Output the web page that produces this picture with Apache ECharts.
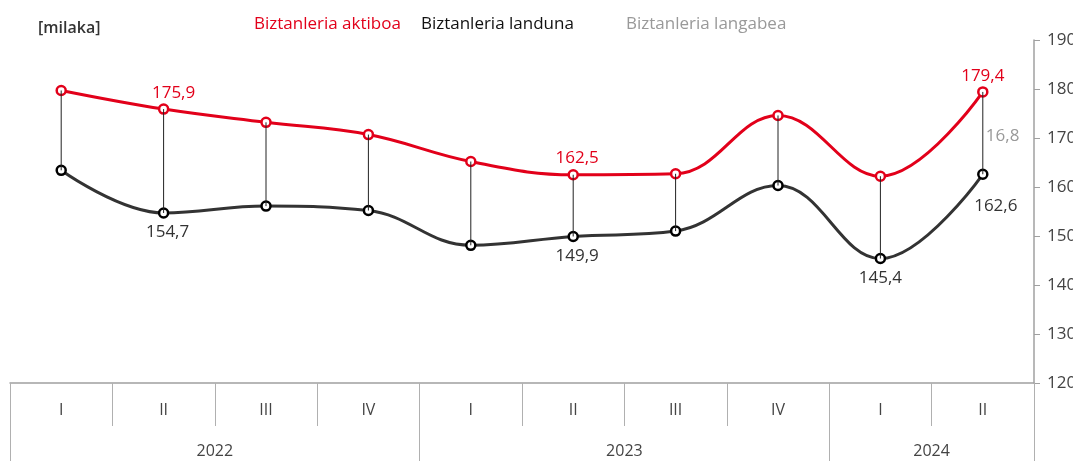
<!DOCTYPE html>
<html>
<head>
    <meta charset="utf-8">
    <title>Biztanleria aktiboa, landuna eta langabea</title>
    <script src="https://cdn.jsdelivr.net/npm/echarts@6.0.0/dist/echarts.min.js"></script>
    <style>
        html, body { margin: 0; padding: 0; background: #fff; }
        #chart { width: 1073px; height: 461px; }
    </style>
</head>
<body>
<div id="chart"></div>
<script>
    // datuak (milaka)
    var quarters = ['I', 'II', 'III', 'IV', 'I', 'II', 'III', 'IV', 'I', 'II'];
    var years = ['2022', '2023', '2024'];
    var yearCenters = [2, 6, 9];
    var yearBounds = [0, 4, 8, 10];
    var active = [179.7, 175.9, 173.2, 170.7, 165.2, 162.5, 162.7, 174.6, 162.2, 179.4];
    var employed = [163.4, 154.7, 156.1, 155.2, 148.1, 149.9, 151.0, 160.3, 145.4, 162.6];
    var activeLabelIdx = [1, 5, 9];
    var employedLabelIdx = [1, 5, 8, 9];
    var unemployedLabelIdx = [9];

    var unemployed = active.map(function (v, i) { return +(v - employed[i]).toFixed(1); });

    function fmt(v) { return v.toFixed(1).replace('.', ','); }

    var font = '"Open Sans", "Noto Sans", sans-serif';
    var red = '#E2001A';
    var dark = '#333333';
    var grey = '#999999';

    // etiketen desplazamendu txikiak
    var activeOffsets = { 1: [10, 0], 5: [4, 0] };
    var employedOffsets = { 1: [4, 0], 5: [4, 0], 9: [13, 13] };

    var chart = echarts.init(document.getElementById('chart'));

    var activeData = active.map(function (v, i) {
        return {
            value: v,
            label: { show: activeLabelIdx.indexOf(i) >= 0, offset: activeOffsets[i] || [0, 0] }
        };
    });
    var employedData = employed.map(function (v, i) {
        return {
            value: v,
            label: { show: employedLabelIdx.indexOf(i) >= 0, offset: employedOffsets[i] || [0, 0] }
        };
    });
    var gapData = active.map(function (v, i) {
        return [i, v, employed[i], unemployed[i]];
    });

    var option = {
        animation: false,
        textStyle: { fontFamily: font },
        title: {
            text: '[milaka]',
            left: 33,
            top: 15,
            textStyle: { fontSize: 16, fontWeight: 600, color: '#333', fontFamily: font }
        },
        legend: [
            {
                left: 243,
                top: 11,
                itemWidth: 0,
                itemHeight: 0,
                itemGap: 14,
                textStyle: { fontSize: 17, fontFamily: font },
                data: [
                    { name: 'Biztanleria aktiboa', textStyle: { color: red } },
                    { name: 'Biztanleria landuna', textStyle: { color: '#111' } }
                ]
            },
            {
                left: 616,
                top: 11,
                itemWidth: 0,
                itemHeight: 0,
                textStyle: { fontSize: 17, fontFamily: font },
                data: [
                    { name: 'Biztanleria langabea', textStyle: { color: grey } }
                ]
            }
        ],
        grid: { left: 10, right: 39, top: 40, bottom: 78, outerBoundsMode: 'none', containLabel: false },
        xAxis: [
            {
                type: 'category',
                data: quarters,
                boundaryGap: true,
                axisLine: { show: true, lineStyle: { color: '#a0a0a0', width: 1.5 } },
                axisTick: { show: true, interval: 0, length: 43, lineStyle: { color: '#b0b0b0' } },
                axisLabel: { interval: 0, margin: 19, fontSize: 16, color: '#444' },
                splitLine: { show: false }
            },
            {
                type: 'value',
                position: 'bottom',
                offset: 43,
                min: 0,
                max: 10,
                axisLine: { show: false },
                axisTick: { show: true, customValues: yearBounds, length: 36, lineStyle: { color: '#b0b0b0' } },
                axisLabel: {
                    customValues: yearCenters,
                    margin: 17,
                    fontSize: 16,
                    color: '#444',
                    formatter: function (v) {
                        var k = yearCenters.indexOf(v);
                        return k >= 0 ? years[k] : '';
                    }
                },
                splitLine: { show: false }
            }
        ],
        yAxis: {
            type: 'value',
            position: 'right',
            min: 120,
            max: 190,
            interval: 10,
            axisLine: { show: true, onZero: false, lineStyle: { color: '#a0a0a0', width: 1.5 } },
            axisTick: { show: true, inside: false, length: 6, lineStyle: { color: '#a0a0a0' } },
            axisLabel: { margin: 13, fontSize: 17, color: '#444' },
            splitLine: { show: false }
        },
        series: [
            {
                name: 'Biztanleria aktiboa',
                type: 'line',
                smooth: 0.4,
                data: activeData,
                color: red,
                lineStyle: { color: red, width: 3 },
                symbol: 'circle',
                symbolSize: 9,
                itemStyle: { color: '#fff', borderColor: red, borderWidth: 2.5 },
                label: {
                    position: 'top',
                    distance: 2,
                    fontSize: 17,
                    color: red,
                    formatter: function (p) { return fmt(p.value); }
                },
                z: 3
            },
            {
                name: 'Biztanleria landuna',
                type: 'line',
                smooth: 0.4,
                data: employedData,
                color: dark,
                lineStyle: { color: dark, width: 3 },
                symbol: 'circle',
                symbolSize: 9,
                itemStyle: { color: '#fff', borderColor: '#000', borderWidth: 2.5 },
                label: {
                    position: 'bottom',
                    distance: 5,
                    fontSize: 17,
                    color: '#333',
                    formatter: function (p) { return fmt(p.value); }
                },
                z: 3
            },
            {
                name: 'Biztanleria langabea',
                type: 'custom',
                color: grey,
                data: gapData,
                encode: { x: 0, y: [1, 2] },
                z: 4,
                renderItem: function (params, api) {
                    var i = api.value(0);
                    var top = api.coord([i, api.value(1)]);
                    var bot = api.coord([i, api.value(2)]);
                    var children = [{
                        type: 'line',
                        shape: { x1: top[0], y1: top[1], x2: bot[0], y2: bot[1] },
                        style: { stroke: '#222', lineWidth: 1 }
                    }];
                    if (unemployedLabelIdx.indexOf(i) >= 0) {
                        children.push({
                            type: 'text',
                            style: {
                                x: top[0] + 3,
                                y: (top[1] + bot[1]) / 2 + 3,
                                text: fmt(api.value(3)),
                                fill: grey,
                                font: '17px ' + font,
                                verticalAlign: 'middle',
                                align: 'left'
                            }
                        });
                    }
                    return { type: 'group', children: children };
                }
            }
        ]
    };

    chart.setOption(option);
</script>
</body>
</html>
